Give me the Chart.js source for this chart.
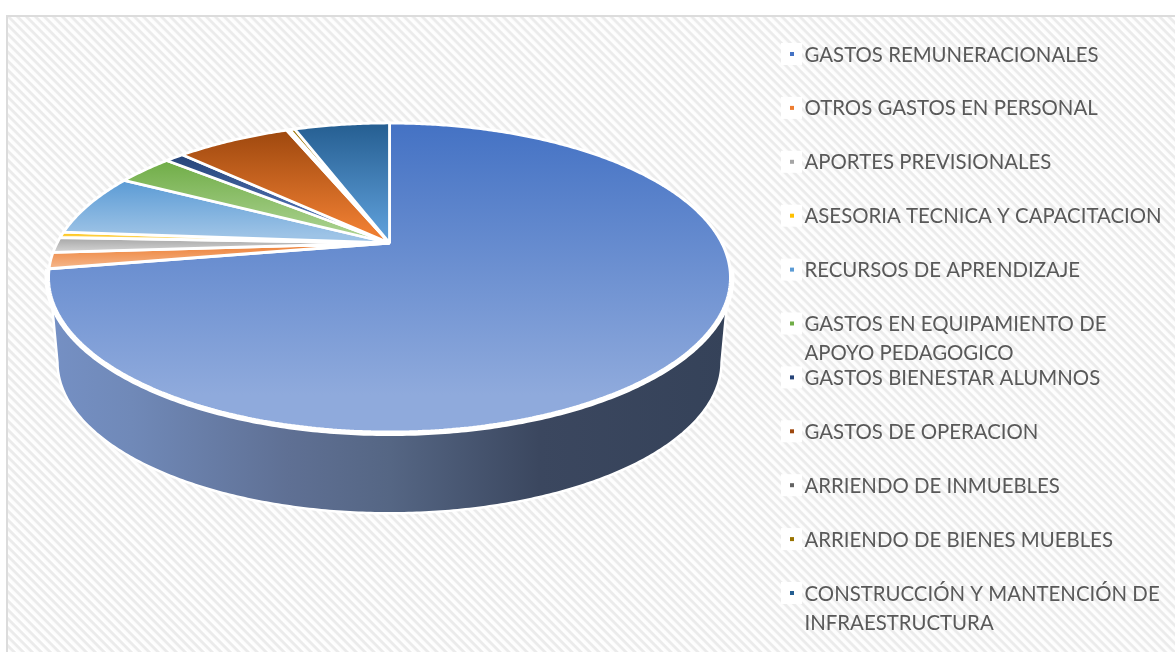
<!DOCTYPE html>
<html>
<head>
<meta charset="utf-8">
<style>
    html, body { margin: 0; padding: 0; background: #ffffff; }
    #page { position: relative; width: 1175px; height: 652px; overflow: hidden; }
    #hatch {
        position: absolute; left: 6px; top: 15px; right: 0; bottom: 0;
        border-left: 2px solid #dcdcdc; border-top: 2px solid #dcdcdc;
        background: repeating-linear-gradient(45deg, #ffffff 0, #fcfcfc 2.4px, #ebebeb 3.6px, #ebebeb 5.2px, #ffffff 6.36px);
    }
    canvas { position: absolute; left: 0; top: 0; }
</style>
<script src="https://cdn.jsdelivr.net/npm/chart.js@4/dist/chart.umd.min.js"></script>
</head>
<body>
<div id="page">
    <div id="hatch"></div>
    <canvas id="pieChart" width="1175" height="652"></canvas>
</div>
<script>
// Values (% of total)
const categories = [
    ['GASTOS REMUNERACIONALES'],
    ['OTROS GASTOS EN PERSONAL'],
    ['APORTES PREVISIONALES'],
    ['ASESORIA TECNICA Y CAPACITACION'],
    ['RECURSOS DE APRENDIZAJE'],
    ['GASTOS EN EQUIPAMIENTO DE', 'APOYO PEDAGOGICO'],
    ['GASTOS BIENESTAR ALUMNOS'],
    ['GASTOS DE OPERACION'],
    ['ARRIENDO DE INMUEBLES'],
    ['ARRIENDO DE BIENES MUEBLES'],
    ['CONSTRUCCIÓN Y MANTENCIÓN DE', 'INFRAESTRUCTURA']
];
const shares = [72.3, 1.7, 1.6, 0.6, 6.6, 3.3, 1.1, 6.7, 0.2, 0.3, 5.6];

const sliceColors = ['#4472c4', '#ed7d31', '#a5a5a5', '#ffc000', '#5b9bd5', '#70ad47', '#264478', '#9e480e', '#636363', '#997300', '#255e91'];
const sliceLightColors = ['#8faadc', '#f4b183', '#cfcfcf', '#fbe5a5', '#9dc3e6', '#a9d18e', '#5a7cc0', '#ed7d31', '#8a8a8a', '#c9a64a', '#5b9bd5'];

// Perspective of the tilted disc
const tilt = 0.2233;
const xStretch = 1.709;
const yStretch = 0.755;
const apexLift = -74.5;
const wallDrop = 85.7;
const wallScale = 0.97;

function project(arc, angle, radiusScale, drop) {
    const u = Math.cos(angle);
    const v = Math.sin(angle);
    const w = 1 - tilt * v;
    const r = arc.outerRadius * radiusScale;
    return {
        x: arc.x + xStretch * r * u / w,
        y: arc.y + apexLift + drop + yStretch * r * v / w
    };
}

function rimPoints(arc, from, to, radiusScale, drop) {
    const steps = Math.max(2, Math.ceil(Math.abs(to - from) / 0.01));
    const pts = [];
    for (let i = 0; i <= steps; i++) {
        pts.push(project(arc, from + (to - from) * i / steps, radiusScale, drop));
    }
    return pts;
}

function tracePolygon(ctx, pts) {
    ctx.beginPath();
    pts.forEach((p, i) => {
        if (i === 0) ctx.moveTo(p.x, p.y);
        else ctx.lineTo(p.x, p.y);
    });
}

// Replaces the flat arc drawing, called by Chart.js for each slice
function drawSliceFace(ctx) {
    const index = this.$context.dataIndex;
    const rim = rimPoints(this, this.startAngle, this.endAngle, 1, 0);
    const apex = { x: this.x, y: this.y + apexLift };
    const ys = rim.map(p => p.y).concat(apex.y);

    const fill = ctx.createLinearGradient(0, Math.min(...ys), 0, Math.max(...ys));
    fill.addColorStop(0, sliceColors[index]);
    fill.addColorStop(0.88, sliceLightColors[index]);

    ctx.save();
    tracePolygon(ctx, [apex].concat(rim));
    ctx.closePath();
    ctx.fillStyle = fill;
    ctx.fill();
    ctx.strokeStyle = '#ffffff';
    ctx.lineWidth = index === 0 ? 3 : 2.8;
    ctx.lineJoin = 'bevel';
    ctx.stroke();
    ctx.restore();
}

const disc3d = {
    id: 'disc3d',
    afterDatasetsUpdate(chart) {
        chart.getDatasetMeta(0).data.forEach(arc => { arc.draw = drawSliceFace; });
    },
    beforeDatasetsDraw(chart) {
        const ctx = chart.ctx;
        const arc = chart.getDatasetMeta(0).data[0];
        const rad = Math.PI / 180;
        // front wall, from right shoulder round to left shoulder
        const top = rimPoints(arc, 22 * rad, 158 * rad, 1, 0);
        const bottom = rimPoints(arc, 167 * rad, 13 * rad, wallScale, wallDrop);
        const wall = ctx.createLinearGradient(50, 0, 730, 0);
        wall.addColorStop(0, '#7590c4');
        wall.addColorStop(0.12, '#7089b8');
        wall.addColorStop(0.35, '#5f7094');
        wall.addColorStop(0.5, '#556684');
        wall.addColorStop(0.72, '#3b475f');
        wall.addColorStop(1, '#354259');

        ctx.save();
        tracePolygon(ctx, top.concat(bottom));
        ctx.closePath();
        ctx.fillStyle = wall;
        ctx.strokeStyle = '#ffffff';
        ctx.lineWidth = 5;
        ctx.lineJoin = 'round';
        ctx.stroke();
        ctx.fill();
        // white rim under the top face
        tracePolygon(ctx, rimPoints(arc, 10 * rad, 170 * rad, 1, 0));
        ctx.lineWidth = 8;
        ctx.stroke();
        ctx.restore();
    }
};

// Legend rows: step is fixed, wrapped labels run into the next row like in the original
const sideLegend = {
    id: 'sideLegend',
    afterDraw(chart, args, opts) {
        const ctx = chart.ctx;
        ctx.save();
        categories.forEach((lines, i) => {
            const rowY = opts.firstRow + i * opts.rowStep;
            ctx.fillStyle = '#ffffff';
            ctx.fillRect(opts.boxX, rowY - 11, 21, 22);
            ctx.fillStyle = sliceColors[i];
            ctx.fillRect(opts.boxX + 9, rowY - 2, 4, 4);
        });
        ctx.font = opts.font;
        ctx.fillStyle = '#595959';
        ctx.textBaseline = 'alphabetic';
        categories.forEach((lines, i) => {
            const rowY = opts.firstRow + i * opts.rowStep;
            lines.forEach((line, n) => {
                ctx.fillText(line, opts.textX, rowY + 7.5 + n * opts.lineStep);
            });
        });
        ctx.restore();
    }
};

new Chart(document.getElementById('pieChart'), {
    type: 'pie',
    data: {
        labels: categories.map(lines => lines.join(' ')),
        datasets: [{
            data: shares,
            backgroundColor: sliceColors,
            borderWidth: 0
        }]
    },
    options: {
        responsive: false,
        animation: false,
        events: [],
        layout: { padding: { left: 48, right: 444, top: 123, bottom: 140 } },
        plugins: {
            legend: { display: false },
            tooltip: { enabled: false },
            sideLegend: {
                firstRow: 54, rowStep: 53.9, lineStep: 29,
                boxX: 781, textX: 804.5,
                font: '20.4px Lato'
            }
        }
    },
    plugins: [disc3d, sideLegend]
});
</script>
</body>
</html>
